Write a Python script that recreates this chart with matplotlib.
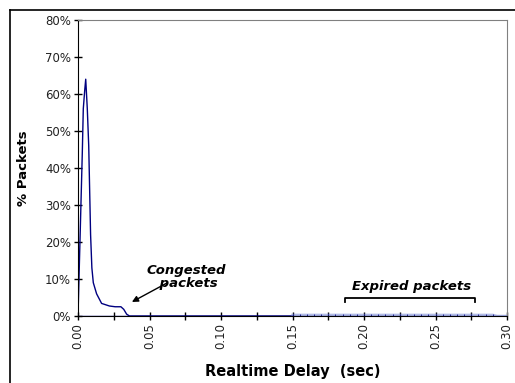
import numpy as np
import matplotlib
matplotlib.use("Agg")
import matplotlib.pyplot as plt
from matplotlib.lines import Line2D
from matplotlib.ticker import MultipleLocator, FuncFormatter

# delay (sec) and % of packets
delay = [0.0, 0.003, 0.0037, 0.0047, 0.0054, 0.0065, 0.0075, 0.0088, 0.0097,
         0.0107, 0.013, 0.0165, 0.022, 0.026, 0.030, 0.032, 0.034, 0.036,
         0.05, 0.10, 0.15]
pct = [0.0, 44.0, 56.0, 61.0, 64.0, 56.0, 46.0, 22.0, 13.0,
       9.0, 6.0, 3.4, 2.7, 2.5, 2.5, 1.8, 0.5, 0.0,
       0.0, 0.0, 0.0]

# expired packets tail: tiny values between 0.15 and 0.293 s
exp_delay = [0.150, 0.155, 0.160, 0.165, 0.170, 0.175, 0.180, 0.185, 0.190,
             0.195, 0.200, 0.205, 0.210, 0.215, 0.220, 0.225, 0.230, 0.235,
             0.240, 0.245, 0.250, 0.255, 0.260, 0.265, 0.270, 0.275, 0.280,
             0.285, 0.290, 0.293, 0.300]
exp_pct = [0.3, 0.3, 0.3, 0.3, 0.3, 0.3, 0.3, 0.3, 0.3,
           0.3, 0.3, 0.3, 0.3, 0.3, 0.3, 0.3, 0.3, 0.3,
           0.3, 0.3, 0.3, 0.3, 0.3, 0.3, 0.3, 0.3, 0.3,
           0.3, 0.3, 0.0, 0.0]

W, H = 515, 383
fig = plt.figure(figsize=(W / 100, H / 100), dpi=100)
ax = fig.add_axes([78 / W, 1 - 316 / H, (507 - 78) / W, (316 - 20) / H])

navy = "#000080"
ax.plot(delay, pct, color=navy, lw=1.0)
ax.plot(exp_delay, exp_pct, color="#8090d8", lw=1.8, alpha=0.6)
ax.plot(exp_delay[:-2], [0.2] * (len(exp_delay) - 2), ls="none", marker="|",
        ms=2, mew=0.7, color=navy, alpha=0.8)
ax.axhline(0, color=navy, lw=1.0, zorder=1)

ax.set_xlim(0, 0.30)
ax.set_ylim(0, 80)

ax.xaxis.set_major_locator(MultipleLocator(0.05))
ax.xaxis.set_minor_locator(MultipleLocator(0.025))
ax.yaxis.set_major_locator(MultipleLocator(10))
ax.xaxis.set_major_formatter(FuncFormatter(lambda v, p: f"{v:.2f}"))
ax.yaxis.set_major_formatter(FuncFormatter(lambda v, p: f"{v:.0f}%"))

ax.tick_params(axis="both", which="both", direction="inout", length=6,
               width=1, color="black", labelsize=8.5, labelcolor="#222222")
ax.tick_params(axis="x", which="major", labelrotation=90, pad=2)
ax.tick_params(axis="y", pad=2)

for s in ["top", "right"]:
    ax.spines[s].set_color("#808080")
for s in ["left", "bottom"]:
    ax.spines[s].set_color("black")

ax.set_xlabel("Realtime Delay  (sec)", fontsize=10.5, fontweight="bold",
              va="center")
ax.set_ylabel("% Packets", fontsize=9.5, fontweight="bold",
              ha="center", va="center")
ax.xaxis.set_label_coords(0.5, -0.189)
ax.yaxis.set_label_coords(-0.128, 0.5)

# annotations
ax.text(0.0755, 10.6, "Congested\n packets", ha="center", va="center",
        fontsize=9.5, fontstyle="italic", fontweight="bold", linespacing=1.05)
ax.annotate("", xy=(0.0377, 3.8), xytext=(0.0621, 8.9),
            arrowprops=dict(arrowstyle="-|>", color="black", lw=1.0,
                            mutation_scale=9, shrinkA=0, shrinkB=0))
ax.text(0.2335, 7.9, "Expired packets", ha="center", va="center",
        fontsize=9.5, fontstyle="italic", fontweight="bold")
ax.plot([0.187, 0.187, 0.2775, 0.2775], [3.7, 4.8, 4.8, 3.7],
        color="black", lw=1.3)

# outer chart frame (only top and left visible)
fig.add_artist(Line2D([10 / W, 1.0], [1 - 10 / H, 1 - 10 / H],
                      transform=fig.transFigure, color="black", lw=1.2))
fig.add_artist(Line2D([10 / W, 10 / W], [0.0, 1 - 10 / H],
                      transform=fig.transFigure, color="black", lw=1.2))

fig.savefig("out.png", dpi=100)
